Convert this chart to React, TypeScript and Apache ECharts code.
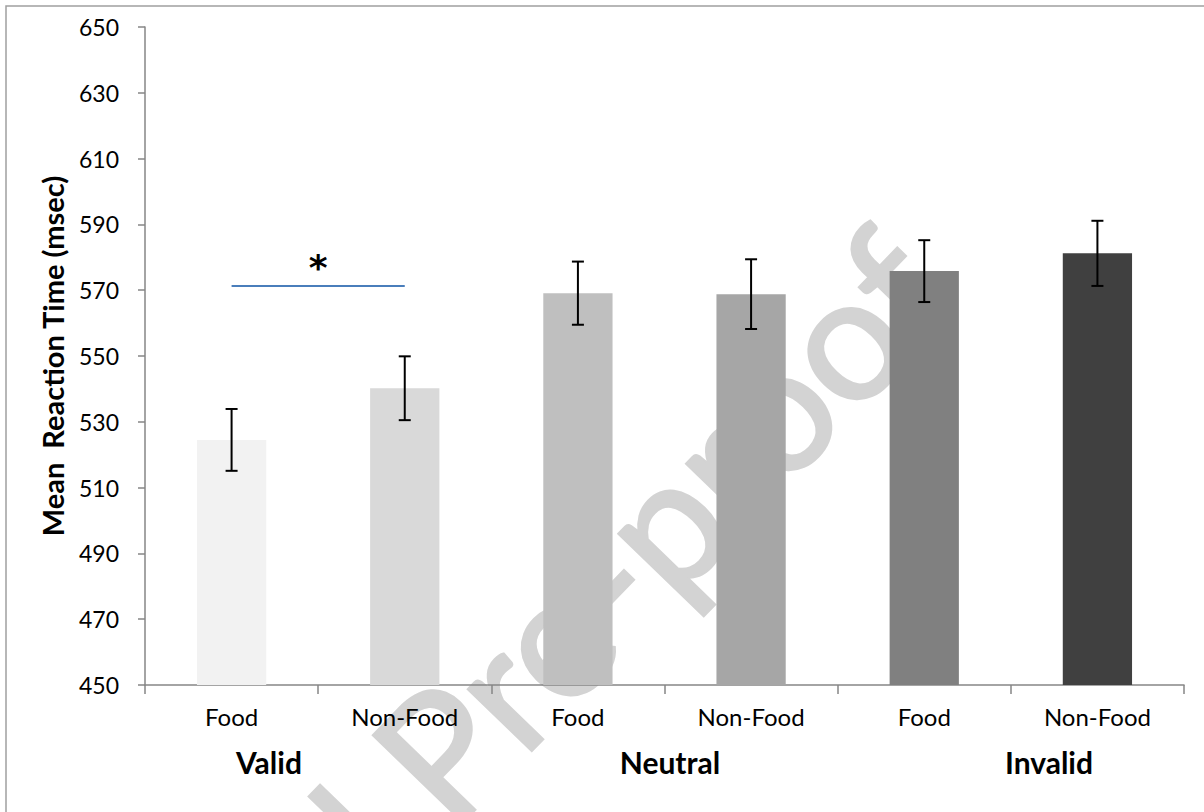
import React, { useEffect, useRef } from "react";
import * as echarts from "echarts";

const categories = ["Food", "Non-Food", "Food", "Non-Food", "Food", "Non-Food"];
const groups = ["Valid", "Neutral", "Invalid"];
const groupLabelX = [269, 670, 1049];
const means = [524.5, 540.2, 569.1, 568.8, 575.8, 581.2];
const errors = [9.4, 9.7, 9.6, 10.6, 9.4, 9.9];
const barColors = ["#f2f2f2", "#d9d9d9", "#bfbfbf", "#a6a6a6", "#808080", "#404040"];
const yMin = 450;
const yMax = 650;
const yStep = 20;
const sigLevel = 571.5;
const sigPair = [0, 1];

const FONT = "Lato";

export default function App() {
  const ref = useRef<HTMLDivElement>(null);
  useEffect(() => {
    if (!ref.current) return;
    const chart = echarts.init(ref.current, null, { renderer: "svg" });
    const option: any = {
      animation: false,
      backgroundColor: "#ffffff",
      grid: { left: 145, right: 20, top: 27, bottom: 127, containLabel: false },
      xAxis: {
        type: "category",
        data: categories,
        axisLine: { lineStyle: { color: "#868686", width: 1.5 } },
        axisTick: { show: true, length: 9, lineStyle: { color: "#868686", width: 1.5 } },
        axisLabel: { color: "#000", fontSize: 24, fontFamily: FONT, margin: 19, interval: 0 },
        splitLine: { show: false },
      },
      yAxis: {
        type: "value",
        min: yMin,
        max: yMax,
        interval: yStep,
        name: "Mean  Reaction Time (msec)",
        nameLocation: "middle",
        nameGap: 78,
        nameTextStyle: { color: "#000", fontSize: 29, fontWeight: "bold", fontFamily: FONT },
        axisLine: { show: true, lineStyle: { color: "#868686", width: 1.5 } },
        axisTick: { show: true, length: 7, lineStyle: { color: "#868686", width: 1.5 } },
        axisLabel: { color: "#000", fontSize: 23, fontFamily: FONT, margin: 26 },
        splitLine: { show: false },
      },
      graphic: [
        {
          type: "rect",
          z: 0,
          shape: { x: 6, y: 6, width: 1400, height: 1000 },
          style: { fill: "none", stroke: "#a0a0a0", lineWidth: 1.5 },
          silent: true,
        },
        {
          type: "text",
          z: 0,
          x: 450,
          y: 738,
          rotation: (46 * Math.PI) / 180,
          style: {
            text: "Journal Pre-proof",
            fontSize: 174,
            fontFamily: FONT,
            fill: "#d3d3d3",
            stroke: "#d3d3d3",
            lineWidth: 3,
            align: "center",
            verticalAlign: "middle",
          },
          silent: true,
        },
        ...groups.map((g, i) => ({
          type: "text",
          x: groupLabelX[i],
          y: 762,
          style: {
            text: g,
            fontSize: 30,
            fontWeight: "bold",
            fontFamily: FONT,
            fill: "#000",
            align: "center",
            verticalAlign: "middle",
          },
        })),
      ],
      series: [
        {
          type: "bar",
          z: 2,
          barWidth: "40%",
          data: means.map((v, i) => ({ value: v, itemStyle: { color: barColors[i] } })),
          markLine: {
            silent: true,
            symbol: "none",
            lineStyle: { color: "#4a7ebb", width: 2, type: "solid" },
            label: {
              show: true,
              position: "middle",
              formatter: "*",
              color: "#000",
              fontSize: 36,
              fontWeight: "bold",
              fontFamily: "DejaVu Sans",
              distance: 0,
            },
            data: [
              [
                { coord: [sigPair[0], sigLevel] },
                { coord: [sigPair[1], sigLevel] },
              ],
            ],
          },
        },
        {
          type: "custom",
          z: 5,
          data: means.map((m, i) => [i, m - errors[i], m + errors[i]]),
          encode: { x: 0, y: [1, 2] },
          renderItem: (params: any, api: any) => {
            const x = api.value(0);
            const lo = api.coord([x, api.value(1)]);
            const hi = api.coord([x, api.value(2)]);
            const cap = 6;
            const st = { stroke: "#000", lineWidth: 2 };
            return {
              type: "group",
              children: [
                { type: "line", shape: { x1: hi[0], y1: hi[1], x2: lo[0], y2: lo[1] }, style: st },
                { type: "line", shape: { x1: hi[0] - cap, y1: hi[1], x2: hi[0] + cap, y2: hi[1] }, style: st },
                { type: "line", shape: { x1: lo[0] - cap, y1: lo[1], x2: lo[0] + cap, y2: lo[1] }, style: st },
              ],
            };
          },
        },
      ],
    };
    chart.setOption(option);
    return () => chart.dispose();
  }, []);
  return (
    <div
      ref={ref}
      style={{ position: "absolute", left: 0, top: 0, width: 1204, height: 812 }}
    />
  );
}
